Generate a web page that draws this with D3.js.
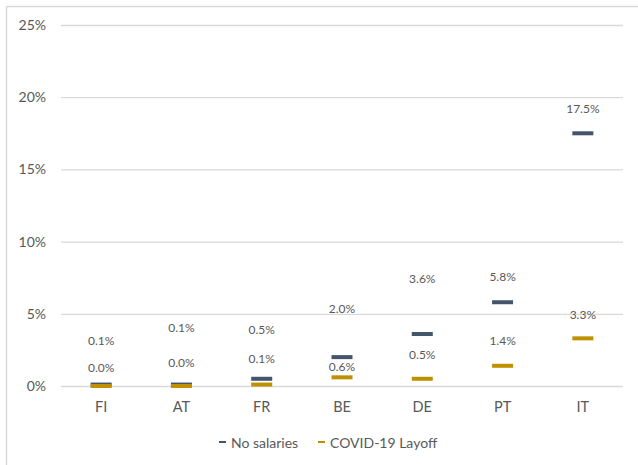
<!DOCTYPE html>
<html>
<head>
<meta charset="utf-8">
<script src="https://cdn.jsdelivr.net/npm/d3@7"></script>
<style>
  html, body { margin: 0; padding: 0; background: #fff; }
  svg { display: block; font-family: Lato, "Open Sans", sans-serif; }
</style>
</head>
<body>
<svg id="chart" width="638" height="465"></svg>
<script>
// Countries and the two measured shares (percent)
const countries = ["FI", "AT", "FR", "BE", "DE", "PT", "IT"];
const noSalaries = [0.1, 0.1, 0.5, 2.0, 3.6, 5.8, 17.5];
const covidLayoff = [0.0, 0.0, 0.1, 0.6, 0.5, 1.4, 3.3];
const yTicks = [0, 5, 10, 15, 20, 25];
const seriesNames = ["No salaries", "COVID-19 Layoff"];

// Hand-placed label lifts (px above each dash)
const liftNoSalaries = [44, 57, 49, 49, 56, 26, 25];
const liftCovid = [19, 24, 26, 11, 24, 25, 24];

const colors = ["#44546A", "#BF9000"];

const svg = d3.select("#chart");

// Chart frame
svg.append("line").attr("x1", 6.5).attr("x2", 638).attr("y1", 6.5).attr("y2", 6.5)
  .attr("stroke", "#D9D9D9").attr("stroke-width", 1.5);
svg.append("line").attr("x1", 6.5).attr("x2", 6.5).attr("y1", 6.5).attr("y2", 465)
  .attr("stroke", "#D9D9D9").attr("stroke-width", 1.5);

const plot = { left: 61, right: 623, top: 25, bottom: 386 };

const x = d3.scaleBand().domain(countries).range([plot.left, plot.right]);
const y = d3.scaleLinear().domain([0, 25]).range([plot.bottom, plot.top]);

// Gridlines + y labels
const yAxis = d3.axisLeft(y).tickValues(yTicks).tickFormat(d => d + "%")
  .tickSize(-(plot.right - plot.left)).tickPadding(15);
const gy = svg.append("g").attr("transform", `translate(${plot.left},0)`).call(yAxis);
gy.select(".domain").remove();
gy.selectAll(".tick line").attr("stroke", "#D9D9D9").attr("stroke-width", 1.3);
gy.selectAll(".tick text").attr("fill", "#595959").attr("font-size", 14)
  .attr("font-family", "Lato, sans-serif");

// Category labels
const xAxis = d3.axisBottom(x).tickSize(0).tickPadding(16);
const gx = svg.append("g").attr("transform", `translate(0,${plot.bottom})`).call(xAxis);
gx.select(".domain").remove();
gx.selectAll(".tick text").attr("fill", "#595959").attr("font-size", 14.5)
  .attr("font-family", "Lato, sans-serif");

// Dash markers with value labels
const series = [
  { values: noSalaries, lift: liftNoSalaries, color: colors[0] },
  { values: covidLayoff, lift: liftCovid, color: colors[1] }
];
const dashW = 21, dashH = 4;

series.forEach(s => {
  const g = svg.append("g");
  g.selectAll("rect").data(countries).join("rect")
    .attr("x", d => x(d) + x.bandwidth() / 2 - dashW / 2)
    .attr("y", (d, i) => y(s.values[i]) - dashH / 2)
    .attr("width", dashW).attr("height", dashH)
    .attr("fill", s.color);
});

series.forEach(s => {
  const g = svg.append("g");
  g.selectAll("text").data(countries).join("text")
    .attr("x", d => x(d) + x.bandwidth() / 2)
    .attr("y", (d, i) => y(s.values[i]) - s.lift[i])
    .attr("text-anchor", "middle")
    .attr("dominant-baseline", "central")
    .attr("font-size", 12)
    .attr("fill", "#595959")
    .text((d, i) => s.values[i].toFixed(1) + "%");
});

// Legend
const legend = svg.append("g").attr("transform", "translate(0,442)");
const legendX = [219, 318];
seriesNames.forEach((name, i) => {
  legend.append("rect").attr("x", legendX[i]).attr("y", -1).attr("width", 7).attr("height", 2)
    .attr("fill", colors[i]);
  legend.append("text").attr("x", legendX[i] + 12).attr("y", 0)
    .attr("dominant-baseline", "central")
    .attr("font-size", 14).attr("fill", "#595959").text(name);
});
</script>
</body>
</html>
